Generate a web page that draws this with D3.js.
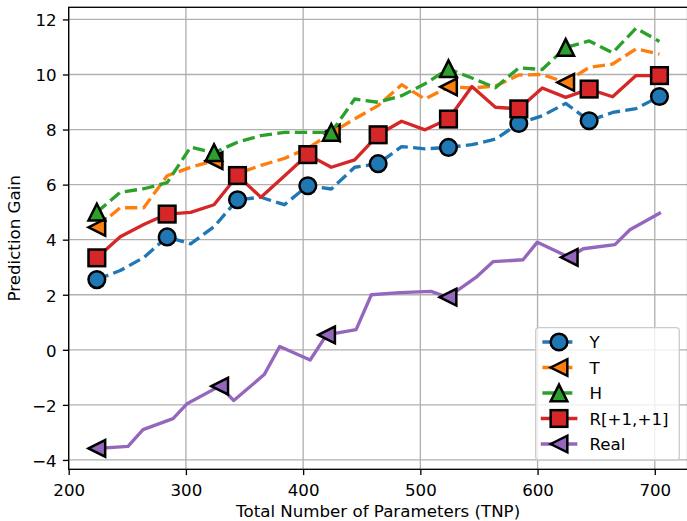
<!DOCTYPE html>
<html><head><meta charset="utf-8">
<script src="https://cdn.jsdelivr.net/npm/d3@7"></script>
<style>html,body{margin:0;padding:0;background:#fff;} svg{display:block;font-family:"DejaVu Sans",sans-serif;}</style>
</head><body><svg id="c" width="687" height="521"></svg>
<script>
// ---------- data ----------
const tnp = [224, 244, 264, 284, 304, 324, 344, 364, 384, 404, 424, 444, 464, 484, 504, 524, 544, 564, 584, 604, 624, 644, 664, 684, 704];
const tnpReal = [224, 250.6, 263.4, 289.0, 300.9, 328.8, 340.8, 366.8, 380.0, 406.0, 420.0, 445.2, 458.2, 482.7, 509.1, 523.6, 548.3, 562.0, 587.6, 599.8, 627.0, 639.0, 666.0, 678.8, 704];
const seriesY = [2.55, 2.88, 3.35, 4.10, 3.85, 4.47, 5.45, 5.54, 5.27, 5.96, 5.84, 6.63, 6.76, 7.38, 7.30, 7.35, 7.45, 7.65, 8.22, 8.50, 8.95, 8.32, 8.62, 8.76, 9.20];
const seriesT = [4.45, 5.16, 5.16, 6.32, 6.63, 6.87, 6.40, 6.70, 6.95, 7.32, 7.88, 8.39, 8.87, 9.63, 9.11, 9.55, 9.51, 9.58, 9.98, 10.00, 9.71, 10.26, 10.38, 10.93, 10.74];
const seriesH = [5.00, 5.72, 5.85, 6.07, 7.36, 7.16, 7.54, 7.78, 7.90, 7.90, 7.90, 9.11, 8.99, 9.23, 9.66, 10.21, 9.87, 9.52, 10.24, 10.18, 10.98, 11.22, 10.79, 11.68, 11.20];
const seriesR = [3.34, 4.11, 4.55, 4.93, 4.99, 5.27, 6.33, 5.54, 6.31, 7.09, 6.63, 6.90, 7.81, 8.30, 7.99, 8.38, 9.56, 8.81, 8.75, 9.51, 9.17, 9.47, 9.19, 9.96, 9.96];
const seriesReal = [-3.58, -3.51, -2.90, -2.50, -1.96, -1.32, -1.84, -0.90, 0.12, -0.37, 0.54, 0.73, 2.00, 2.08, 2.12, 1.91, 2.66, 3.20, 3.27, 3.91, 3.36, 3.67, 3.82, 4.36, 4.96];
const labels = ["Y", "T", "H", "R[+1,+1]", "Real"];
const xTicks = [200, 300, 400, 500, 600, 700];
const yTicks = [-4, -2, 0, 2, 4, 6, 8, 10, 12];
const xLabel = "Total Number of Parameters (TNP)";
const yLabel = "Prediction Gain";

// ---------- styles ----------
const styles = [
  {xs: tnp, ys: seriesY, color: "#1f77b4", dash: true, marker: "circle", every: 3},
  {xs: tnp, ys: seriesT, color: "#ff7f0e", dash: true, marker: "left", every: 5},
  {xs: tnp, ys: seriesH, color: "#2ca02c", dash: true, marker: "up", every: 5},
  {xs: tnp, ys: seriesR, color: "#d62728", dash: false, marker: "square", every: 3},
  {xs: tnpReal, ys: seriesReal, color: "#9467bd", dash: false, marker: "left", every: 5}
];
const FS = 16.67, LW = 3.33, MS = 16.67, MEW = 2.5;

const svg = d3.select("#c");
const m = {l: 68.7, r: 687.6, t: 7.3, b: 469.3};
const x = d3.scaleLinear().domain([200, 728]).range([m.l, m.r]);
const y = d3.scaleLinear().domain([-4.34, 12.44]).range([m.b, m.t]);

// grid
const grid = svg.append("g").attr("stroke", "#b0b0b0").attr("stroke-width", 1.33);
grid.selectAll(".gx").data(xTicks).join("line")
  .attr("x1", d => x(d)).attr("x2", d => x(d)).attr("y1", m.t).attr("y2", m.b);
grid.selectAll(".gy").data(yTicks).join("line")
  .attr("y1", d => y(d)).attr("y2", d => y(d)).attr("x1", m.l).attr("x2", m.r);

// marker shape
function drawMarker(g, type, cx, cy, fill) {
  const h = MS / 2;
  let el;
  if (type === "circle") {
    el = g.append("circle").attr("cx", cx).attr("cy", cy).attr("r", h);
  } else if (type === "square") {
    el = g.append("rect").attr("x", cx - h).attr("y", cy - h).attr("width", MS).attr("height", MS);
  } else if (type === "up") {
    el = g.append("path").attr("d", `M${cx},${cy - h}L${cx - h},${cy + h}L${cx + h},${cy + h}Z`);
  } else {
    el = g.append("path").attr("d", `M${cx - h},${cy}L${cx + h},${cy - h}L${cx + h},${cy + h}Z`);
  }
  el.attr("fill", fill).attr("stroke", "#000").attr("stroke-width", MEW).attr("stroke-linejoin", "miter");
}

// series
styles.forEach(s => {
  const g = svg.append("g");
  const pts = s.xs.map((v, i) => [v, s.ys[i]]);
  const line = d3.line().x(d => x(d[0])).y(d => y(d[1]));
  g.append("path").attr("d", line(pts)).attr("fill", "none")
    .attr("stroke", s.color).attr("stroke-width", LW)
    .attr("stroke-linejoin", "round")
    .attr("stroke-linecap", s.dash ? "butt" : "square")
    .attr("stroke-dasharray", s.dash ? `${3.7 * LW},${1.6 * LW}` : null);
  pts.forEach((p, i) => {
    if (i % s.every === 0) drawMarker(g, s.marker, x(p[0]), y(p[1]), s.color);
  });
});

// axes
const ax = svg.append("g").attr("transform", `translate(0,${m.b})`)
  .call(d3.axisBottom(x).tickValues(xTicks).tickSize(5.8).tickSizeOuter(0).tickFormat(d3.format("d")));
ax.select(".domain").remove();
ax.selectAll(".tick line").attr("stroke", "#000").attr("stroke-width", 1.33);
ax.selectAll(".tick text").attr("dy", null).attr("y", 26.7).attr("fill", "#000")
  .style("font-size", FS + "px").style("font-family", "DejaVu Sans");

const ay = svg.append("g").attr("transform", `translate(${m.l},0)`)
  .call(d3.axisLeft(y).tickValues(yTicks).tickSize(5.8).tickSizeOuter(0).tickFormat(d3.format("d")));
ay.select(".domain").remove();
ay.selectAll(".tick line").attr("stroke", "#000").attr("stroke-width", 1.33);
ay.selectAll(".tick text").attr("dy", null).attr("y", 6.3).attr("x", -12.0).attr("fill", "#000")
  .style("font-size", FS + "px").style("font-family", "DejaVu Sans");

// spines
svg.append("rect").attr("x", m.l).attr("y", m.t).attr("width", m.r - m.l).attr("height", m.b - m.t)
  .attr("fill", "none").attr("stroke", "#000").attr("stroke-width", 1.33);

// axis labels
svg.append("text").attr("x", (m.l + m.r) / 2).attr("y", 517.2).attr("text-anchor", "middle")
  .style("font-size", FS + "px").text(xLabel);
svg.append("text").attr("transform", `translate(20,${(m.t + m.b) / 2}) rotate(-90)`)
  .attr("text-anchor", "middle").style("font-size", FS + "px").text(yLabel);

// legend
const lg = svg.append("g");
lg.append("rect").attr("x", 535.7).attr("y", 327.7).attr("width", 143.6).attr("height", 132.3)
  .attr("rx", 3.3).attr("fill", "#fff").attr("fill-opacity", 0.8)
  .attr("stroke", "#cccccc").attr("stroke-width", 1.33);
styles.forEach((s, i) => {
  const cy = 342 + i * 25.5;
  const g = lg.append("g");
  g.append("line").attr("x1", 542.4).attr("x2", 575.7).attr("y1", cy).attr("y2", cy)
    .attr("stroke", s.color).attr("stroke-width", LW)
    .attr("stroke-linecap", s.dash ? "butt" : "square")
    .attr("stroke-dasharray", s.dash ? `${3.7 * LW},${1.6 * LW}` : null);
  drawMarker(g, s.marker, 559, cy, s.color);
  g.append("text").attr("x", 589.5).attr("y", cy + 6.3).style("font-size", FS + "px").text(labels[i]);
});
</script></body></html>
